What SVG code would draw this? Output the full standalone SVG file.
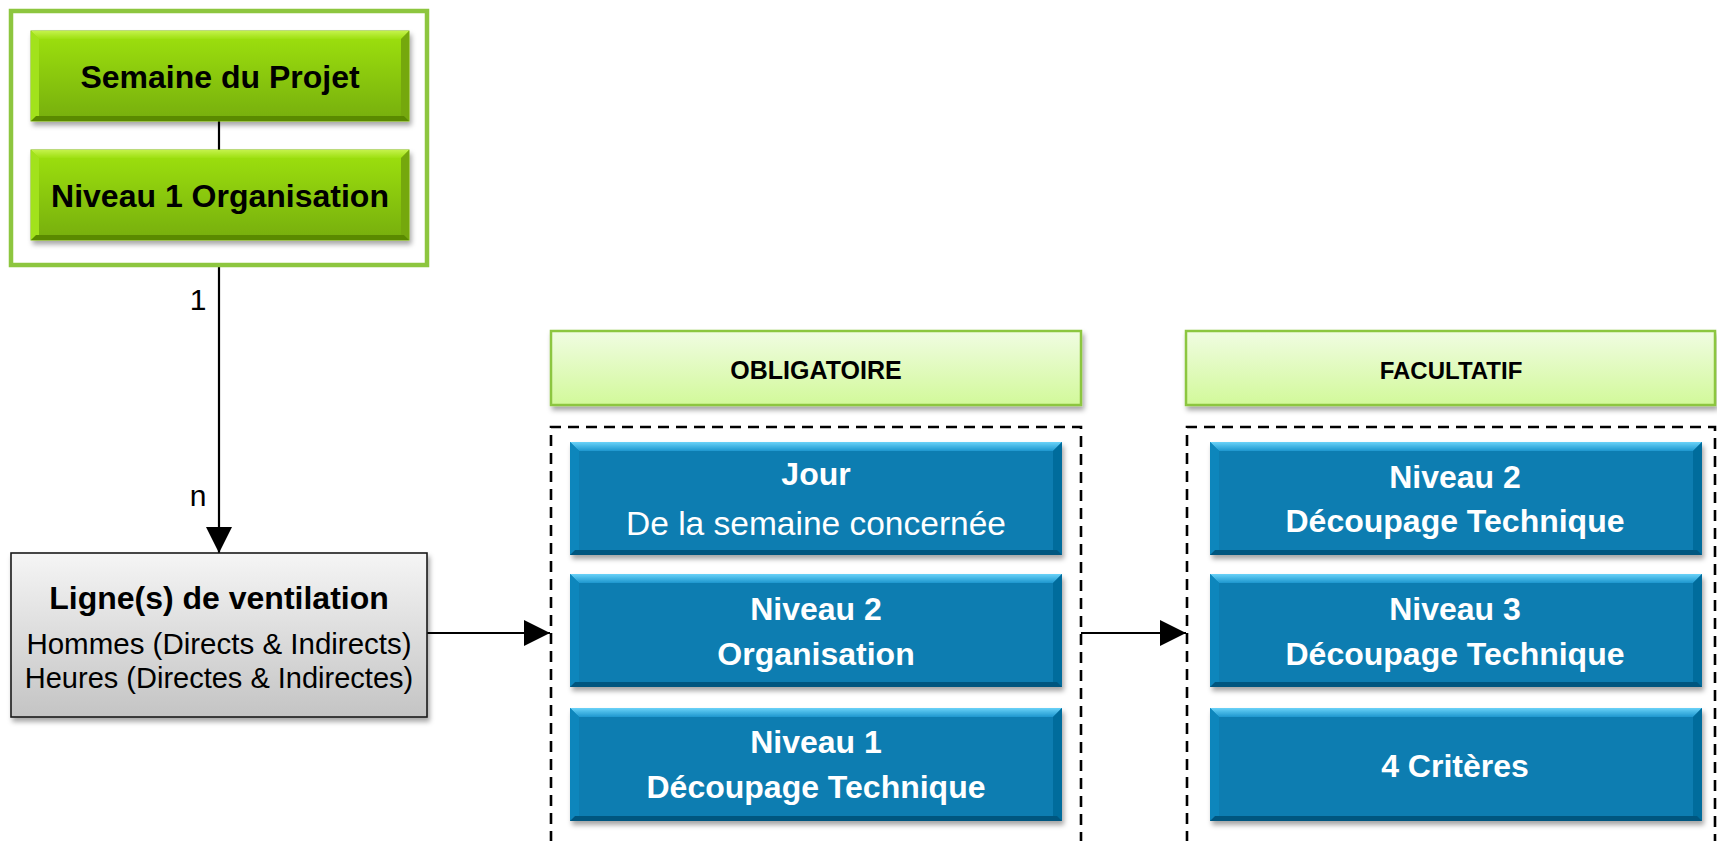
<svg xmlns="http://www.w3.org/2000/svg" width="1717" height="841" viewBox="0 0 1717 841">
<style>
text{font-family:"Liberation Sans",Arial,sans-serif;text-anchor:middle}
.b{font-weight:bold}
.w{fill:#ffffff}
.k{fill:#000000}
.lbl{font-size:32px;font-weight:bold}
.conn{stroke:#000;stroke-width:2.2;fill:none}
.dash{fill:none;stroke:#000;stroke-width:2.6;stroke-dasharray:11 7}
.hdr{fill:url(#hdrG);stroke:#8CC63F;stroke-width:2.5}
</style>
<defs>
<filter id="sh" x="-5%" y="-10%" width="115%" height="130%">
<feDropShadow dx="2" dy="4" stdDeviation="2.5" flood-color="#000" flood-opacity="0.35"/>
</filter>
<linearGradient id="blueTop" x1="0" y1="0" x2="0" y2="1">
<stop offset="0" stop-color="#6AD2F8"/><stop offset="1" stop-color="#1C97CF"/>
</linearGradient>
<linearGradient id="greenBase" x1="0" y1="0" x2="0" y2="1">
<stop offset="0" stop-color="#9EE20C"/><stop offset="1" stop-color="#76AE08"/>
</linearGradient>
<linearGradient id="greenTop" x1="0" y1="0" x2="0" y2="1">
<stop offset="0" stop-color="#C4F24A"/><stop offset="1" stop-color="#9EE010"/>
</linearGradient>
<linearGradient id="grayG" x1="0" y1="0" x2="0" y2="1">
<stop offset="0" stop-color="#F5F5F5"/><stop offset="1" stop-color="#C4C4C4"/>
</linearGradient>
<linearGradient id="hdrG" x1="0" y1="0" x2="0" y2="1">
<stop offset="0" stop-color="#F0FCE2"/><stop offset="1" stop-color="#D2F99A"/>
</linearGradient>
<g id="bluebox">
<rect x="0" y="0" width="492" height="113" fill="#077DB1"/>
<polygon points="0,0 492,0 483,9 9,9" fill="url(#blueTop)"/>
<polygon points="0,0 9,9 9,108 0,113" fill="#0B86BC"/>
<polygon points="492,0 483,9 483,108 492,113" fill="#066C9C"/>
<polygon points="0,113 492,113 487,108 5,108" fill="#04577F"/>
</g>
<g id="greenbox">
<rect x="0" y="0" width="378" height="90" fill="url(#greenBase)" stroke="#7DB80A" stroke-width="1"/>
<polygon points="0,0 378,0 370,8 8,8" fill="url(#greenTop)"/>
<polygon points="0,0 8,8 8,85 0,90" fill="#A2E21A"/>
<polygon points="378,0 370,8 370,85 378,90" fill="#74A80A"/>
<polygon points="0,90 378,90 373,85 5,85" fill="#5A8A06"/>
</g>
<marker id="arr" viewBox="0 0 10 10" refX="10" refY="5" markerWidth="26" markerHeight="26" markerUnits="userSpaceOnUse" orient="auto">
<path d="M0,0 L10,5 L0,10 z" fill="#000"/>
</marker>
</defs>

<g id="connectors">
<line class="conn" x1="219" y1="121" x2="219" y2="150"/>
<line class="conn" x1="219" y1="266" x2="219" y2="553" marker-end="url(#arr)"/>
<line class="conn" x1="427" y1="633" x2="550" y2="633" marker-end="url(#arr)"/>
<line class="conn" x1="1081" y1="633" x2="1186" y2="633" marker-end="url(#arr)"/>
<text x="198" y="310" style="font-size:30px">1</text>
<text x="198" y="506" style="font-size:30px">n</text>
</g>

<g id="groupe-semaine">
<rect x="11" y="11" width="416" height="254" fill="none" stroke="#8DC63F" stroke-width="4.5"/>
</g>
<g id="semaine-projet">
<use href="#greenbox" x="31" y="31" filter="url(#sh)"/>
<text class="lbl k" x="220" y="88">Semaine du Projet</text>
</g>
<g id="niveau1-organisation">
<use href="#greenbox" x="31" y="150" filter="url(#sh)"/>
<text class="lbl k" x="220" y="207">Niveau 1 Organisation</text>
</g>

<g id="lignes-ventilation">
<rect x="11" y="553" width="416" height="164" fill="url(#grayG)" stroke="#1a1a1a" stroke-width="1.6" filter="url(#sh)"/>
<text class="lbl k" x="219" y="609">Ligne(s) de ventilation</text>
<text x="219" y="654" style="font-size:29.5px">Hommes (Directs &amp; Indirects)</text>
<text x="219" y="688" style="font-size:29px">Heures (Directes &amp; Indirectes)</text>
</g>

<g id="obligatoire">
<rect class="hdr" x="551" y="331" width="530" height="74" filter="url(#sh)"/>
<text class="b k" x="816" y="379" style="font-size:25px">OBLIGATOIRE</text>
<path class="dash" d="M551,860 L551,427 L1081,427 L1081,860"/>
</g>
<g id="jour">
<use href="#bluebox" x="570" y="442" filter="url(#sh)"/>
<text class="lbl w" x="816" y="485">Jour</text>
<text class="w" x="816" y="535" style="font-size:33.5px">De la semaine concernée</text>
</g>
<g id="niveau2-organisation">
<use href="#bluebox" x="570" y="574" filter="url(#sh)"/>
<text class="lbl w" x="816" y="620">Niveau 2</text>
<text class="lbl w" x="816" y="665">Organisation</text>
</g>
<g id="niveau1-decoupage">
<use href="#bluebox" x="570" y="708" filter="url(#sh)"/>
<text class="lbl w" x="816" y="753">Niveau 1</text>
<text class="lbl w" x="816" y="798">Découpage Technique</text>
</g>

<g id="facultatif">
<rect class="hdr" x="1186" y="331" width="529" height="74" filter="url(#sh)"/>
<text class="b k" x="1451" y="379" style="font-size:24px">FACULTATIF</text>
<path class="dash" d="M1187,860 L1187,427 L1715,427 L1715,860"/>
</g>
<g id="niveau2-decoupage">
<use href="#bluebox" x="1210" y="442" filter="url(#sh)"/>
<text class="lbl w" x="1455" y="488">Niveau 2</text>
<text class="lbl w" x="1455" y="532">Découpage Technique</text>
</g>
<g id="niveau3-decoupage">
<use href="#bluebox" x="1210" y="574" filter="url(#sh)"/>
<text class="lbl w" x="1455" y="620">Niveau 3</text>
<text class="lbl w" x="1455" y="665">Découpage Technique</text>
</g>
<g id="quatre-criteres">
<use href="#bluebox" x="1210" y="708" filter="url(#sh)"/>
<text class="lbl w" x="1455" y="777">4 Critères</text>
</g>
</svg>
